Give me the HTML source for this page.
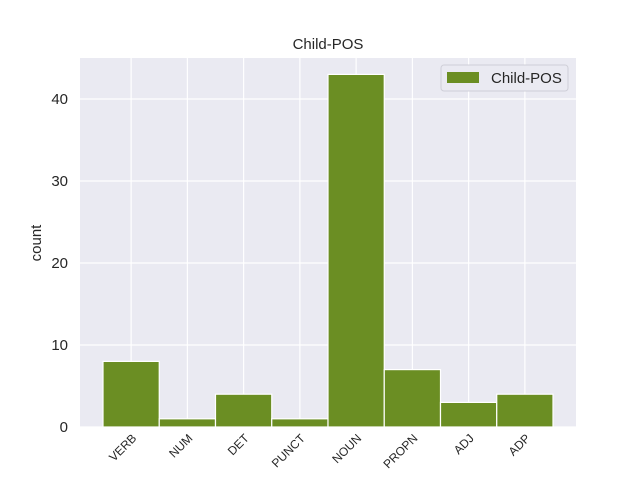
<!DOCTYPE html>
<html><head><meta charset="utf-8"><style>body{margin:0;background:#fff}svg{display:block}</style></head>
<body>
<svg id="c" width="640" height="480" xmlns="http://www.w3.org/2000/svg" font-family="'Liberation Sans', 'DejaVu Sans', sans-serif">
<rect x="80" y="58" width="496" height="369" fill="#eaeaf2"/>
<g id="grid"></g><g id="bars"></g><g id="xt"></g><g id="yt"></g>
<text x="328" y="49" text-anchor="middle" font-size="15" fill="#262626">Child-POS</text>
<text transform="translate(41,243) rotate(-90)" text-anchor="middle" font-size="15" fill="#262626">count</text>
<g>
<rect x="441" y="65" width="127" height="26" rx="3" fill="#eaeaf2" stroke="#cfcfd8" stroke-width="1"/>
<rect x="447" y="72" width="32" height="11" fill="#6b8e23"/>
<text x="491" y="83" font-size="15" fill="#262626">Child-POS</text>
</g>
</svg>
<script>
const categories=["VERB","NUM","DET","PUNCT","NOUN","PROPN","ADJ","ADP"];
const counts=[8,1,4,1,43,7,3,4];
const yTicks=[0,10,20,30,40];
const NS="http://www.w3.org/2000/svg";
const x0=103,bw=56.25;
const xPos=i=>x0+i*bw;
const yPos=v=>427-v*8.2;
function mk(t,a,p){const e=document.createElementNS(NS,t);for(const k in a)e.setAttribute(k,a[k]);p.appendChild(e);return e;}
const grid=document.getElementById('grid'),bars=document.getElementById('bars'),xt=document.getElementById('xt'),yt=document.getElementById('yt');
yTicks.forEach(v=>{
 const l=mk('line',{x1:80,x2:576,y1:yPos(v),y2:yPos(v),stroke:'#fff','stroke-width':1.2},grid);
 
 
 const t=mk('text',{x:68,y:yPos(v)+5,'text-anchor':'end','font-size':15,fill:'#262626'},yt);
 t.textContent=v;
 
 
});
categories.forEach((c,i)=>{
 const cx=xPos(i)+bw/2;
 const g=mk('line',{x1:cx,x2:cx,y1:58,y2:427,stroke:'#fff','stroke-width':1.2},grid);
 
 
 const r=mk('rect',{x:xPos(i),y:yPos(counts[i]),width:bw,height:427-yPos(counts[i]),fill:'#6b8e23',stroke:'#fff','stroke-width':1.2},bars);
 
 
 const t=mk('text',{transform:`translate(${cx+6},${439}) rotate(-45)`,'text-anchor':'end','font-size':12,fill:'#262626'},xt);
 t.textContent=c;
 
 
});
</script>
</body></html>
